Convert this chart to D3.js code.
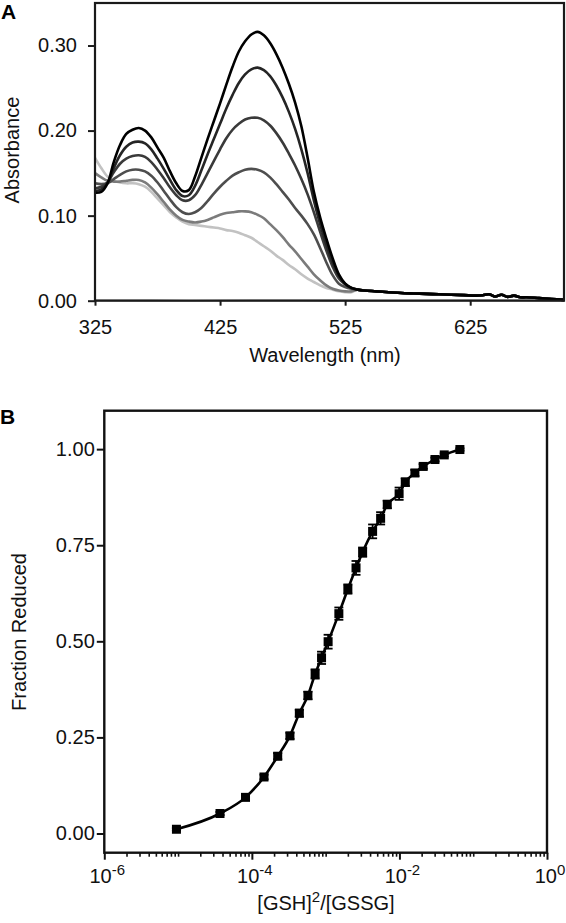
<!DOCTYPE html>
<html><head><meta charset="utf-8">
<script src="https://cdn.jsdelivr.net/npm/d3@7"></script>
<style>
body{margin:0;background:#fff}
svg{display:block;font-family:"Liberation Sans",Arial,Helvetica,sans-serif}
</style>
</head><body>
<svg id="chart" width="566" height="923"></svg>
<script>
// ---------- Panel A data ----------
const wavelengths = [325,330,335,340,345,350,355,360,365,370,375,380,385,390,395,400,405,410,415,420,425,430,435,440,445,450,455,460,465,470,475,480,485,490,495,500,505,510,515,520,525,530];
const spec1 = [.127,.128,.138,.163,.183,.196,.201,.203,.200,.192,.180,.168,.152,.138,.129,.130,.146,.168,.190,.211,.232,.254,.275,.293,.305,.313,.316,.312,.303,.290,.274,.255,.233,.205,.168,.128,.098,.073,.050,.031,.020,.015];
const spec2 = [.129,.131,.138,.156,.171,.181,.186,.187,.185,.178,.167,.155,.142,.130,.123,.124,.135,.153,.172,.190,.208,.226,.242,.256,.266,.272,.274,.271,.264,.253,.239,.222,.202,.178,.150,.118,.090,.066,.045,.029,.020,.015];
const spec3 = [.132,.134,.139,.151,.161,.167,.170,.171,.169,.163,.154,.144,.133,.124,.118,.118,.124,.136,.150,.164,.178,.191,.201,.208,.213,.215,.215,.212,.206,.197,.186,.173,.159,.143,.125,.104,.081,.059,.040,.026,.019,.015];
const spec4 = [.138,.137,.138,.143,.148,.152,.154,.154,.152,.147,.139,.129,.119,.110,.104,.102,.104,.109,.117,.126,.134,.141,.147,.151,.154,.155,.154,.151,.145,.137,.128,.119,.109,.100,.090,.078,.062,.045,.030,.020,.016,.014];
const spec5 = [.150,.145,.141,.140,.140,.141,.142,.142,.139,.133,.125,.116,.107,.100,.095,.093,.092,.093,.095,.098,.101,.103,.104,.105,.105,.104,.101,.097,.090,.083,.075,.066,.058,.049,.040,.031,.024,.018,.014,.012,.011,.011];
const spec6 = [.168,.156,.146,.141,.139,.138,.138,.137,.134,.128,.120,.112,.104,.098,.093,.090,.089,.088,.087,.086,.085,.083,.082,.080,.077,.074,.069,.064,.059,.053,.048,.042,.037,.031,.026,.022,.018,.015,.013,.011,.010,.010];
const tailWavelengths = [535,540,550,560,570,580,590,600,610,620,630,635,640,645,650,655,660,665,670,680,690,700];
const tailAbs = [.013,.012,.011,.010,.009,.0085,.008,.0075,.007,.0065,.006,.0065,.0075,.005,.007,.0045,.006,.004,.004,.003,.002,.001];
const baseWavelengths = [325,400,475,550,625,700];
const baseAbs = [.0005,.0003,.0006,.0002,.0005,.0004];
const specColors = ["#000000","#252525","#3a3a3a","#4e4e4e","#7b7b7b","#c2c2c2"];
const xTicksA = [325,425,525,625];
const yTicksA = [0,0.1,0.2,0.3];

// ---------- Panel B data ----------
const ratio = [9.5e-6,3.7e-5,8.2e-5,1.46e-4,2.24e-4,3.28e-4,4.4e-4,5.75e-4,7.2e-4,8.8e-4,1.08e-3,1.51e-3,2.0e-3,2.58e-3,3.17e-3,4.33e-3,5.56e-3,6.84e-3,9.9e-3,1.2e-2,1.62e-2,2.1e-2,3.03e-2,4.05e-2,6.6e-2];
const fraction = [0.011,0.052,0.094,0.147,0.201,0.254,0.313,0.359,0.415,0.457,0.499,0.572,0.636,0.691,0.732,0.786,0.820,0.856,0.884,0.914,0.938,0.955,0.973,0.985,0.999];
const fractionErr = [0.003,0.004,0.005,0.006,0.008,0.008,0.009,0.010,0.012,0.016,0.018,0.016,0.012,0.018,0.012,0.018,0.016,0.010,0.016,0.010,0.008,0.006,0.005,0.004,0.003];
const xMajorB = [1e-6,1e-4,1e-2,1];
const xExpB = ["-6","-4","-2","0"];
const yTicksB = [0,0.25,0.5,0.75,1.0];

const svg = d3.select("#chart");
const FS = 20;

// ================= Panel A =================
const A = {l:95, r:564, t:3, b:300.7};
const xA = d3.scaleLinear().domain([325,700]).range([A.l,A.r]);
const yA = d3.scaleLinear().domain([0,0.35]).range([A.b,A.t]);
const gA = svg.append("g");

const lineA = d3.line().x(d=>xA(d[0])).y(d=>yA(d[1])).curve(d3.curveCatmullRom);

gA.append("path").datum(baseWavelengths.map((w,i)=>[w,baseAbs[i]]))
  .attr("d", lineA).attr("fill","none").attr("stroke","#6a6a6a").attr("stroke-width",1.6);

const spectra = [spec1,spec2,spec3,spec4,spec5,spec6];
for (let k = spectra.length-1; k >= 0; k--) {
  const pts = wavelengths.map((w,i)=>[w,spectra[k][i]]).concat(tailWavelengths.map((w,i)=>[w,tailAbs[i]]));
  gA.append("path").datum(pts).attr("d", lineA)
    .attr("fill","none").attr("stroke",specColors[k]).attr("stroke-width",2.6)
    .attr("stroke-linejoin","round");
}

gA.append("rect").attr("x",A.l).attr("y",A.t).attr("width",A.r-A.l).attr("height",A.b-A.t)
  .attr("fill","none").attr("stroke","#1a1a1a").attr("stroke-width",2.2);

const axAy = gA.append("g").attr("transform",`translate(${A.l},0)`)
  .call(d3.axisLeft(yA).tickValues(yTicksA).tickFormat(d3.format(".2f")).tickSize(7).tickPadding(11));
const axAx = gA.append("g").attr("transform",`translate(0,${A.b})`)
  .call(d3.axisBottom(xA).tickValues(xTicksA).tickFormat(d3.format("d")).tickSize(5).tickPadding(14));
[axAy,axAx].forEach(g=>{
  g.select(".domain").remove();
  g.selectAll("line").attr("stroke","#1a1a1a").attr("stroke-width",2);
  g.selectAll("text").attr("font-size",FS).attr("fill","#111").attr("font-family","Liberation Sans, Arial, sans-serif");
});

gA.append("text").attr("x",325).attr("y",362).attr("text-anchor","middle")
  .attr("font-size",FS).attr("fill","#111").text("Wavelength (nm)");
gA.append("text").attr("transform","translate(18.5,150) rotate(-90)").attr("text-anchor","middle")
  .attr("font-size",FS).attr("fill","#111").text("Absorbance");
gA.append("text").attr("x",1).attr("y",19).attr("font-size",21).attr("font-weight","bold").text("A");

// ================= Panel B =================
const B = {l:104.3, r:547, t:410.7, b:852.7};
const xB = d3.scaleLog().domain([1e-6,1]).range([B.l,B.r]);
const yB = d3.scaleLinear().domain([-0.05,1.1]).range([B.b,B.t]);
const gB = svg.append("g");

gB.append("path").datum(ratio.map((x,i)=>[x,fraction[i]]))
  .attr("d", d3.line().x(d=>xB(d[0])).y(d=>yB(d[1])).curve(d3.curveMonotoneX))
  .attr("fill","none").attr("stroke","#000").attr("stroke-width",2.6);

const eb = gB.append("g").attr("stroke","#000").attr("stroke-width",1.8);
ratio.forEach((x,i)=>{
  const cx = xB(x), y1 = yB(fraction[i]-fractionErr[i]), y2 = yB(fraction[i]+fractionErr[i]);
  eb.append("line").attr("x1",cx).attr("x2",cx).attr("y1",y1).attr("y2",y2);
  eb.append("line").attr("x1",cx-4.5).attr("x2",cx+4.5).attr("y1",y1).attr("y2",y1);
  eb.append("line").attr("x1",cx-4.5).attr("x2",cx+4.5).attr("y1",y2).attr("y2",y2);
});
gB.selectAll("rect.pt").data(ratio).enter().append("rect").attr("class","pt")
  .attr("x",d=>xB(d)-4.5).attr("y",(d,i)=>yB(fraction[i])-4.5)
  .attr("width",9).attr("height",9).attr("fill","#000");

gB.append("rect").attr("x",B.l).attr("y",B.t).attr("width",B.r-B.l).attr("height",B.b-B.t)
  .attr("fill","none").attr("stroke","#111").attr("stroke-width",2.4);

const axBy = gB.append("g").attr("transform",`translate(${B.l},0)`)
  .call(d3.axisLeft(yB).tickValues(yTicksB).tickFormat(d3.format(".2f")).tickSize(7.5).tickPadding(2));
axBy.select(".domain").remove();
axBy.selectAll("line").attr("stroke","#111").attr("stroke-width",2);
axBy.selectAll("text").attr("font-size",FS).attr("fill","#111").attr("font-family","Liberation Sans, Arial, sans-serif");

const minorB = [];
for (let e=-6; e<0; e++) for (let m=1; m<10; m++) { const v = m*Math.pow(10,e); if (!xMajorB.some(t=>Math.abs(t-v)/v<1e-9)) minorB.push(v); }
const axBxMinor = gB.append("g").attr("transform",`translate(0,${B.b})`)
  .call(d3.axisBottom(xB).tickValues(minorB).tickFormat("").tickSize(4));
axBxMinor.select(".domain").remove();
axBxMinor.selectAll("line").attr("stroke","#111").attr("stroke-width",1.6);
const axBx = gB.append("g").attr("transform",`translate(0,${B.b})`)
  .call(d3.axisBottom(xB).tickValues(xMajorB).tickFormat("").tickSize(7));
axBx.select(".domain").remove();
axBx.selectAll("line").attr("stroke","#111").attr("stroke-width",2);
xMajorB.forEach((v,i)=>{
  const t = gB.append("text").attr("x",xB(v)+3).attr("y",883).attr("text-anchor","middle")
    .attr("font-size",FS).attr("fill","#111");
  t.append("tspan").text("10");
  t.append("tspan").attr("dy",-8).attr("font-size",15).text(xExpB[i]);
});

const xt = gB.append("text").attr("x",326).attr("y",910).attr("text-anchor","middle").attr("font-size",FS).attr("fill","#111");
xt.append("tspan").text("[GSH]");
xt.append("tspan").attr("dy",-8).attr("font-size",15).text("2");
xt.append("tspan").attr("dy",8).text("/[GSSG]");
gB.append("text").attr("transform","translate(26,632) rotate(-90)").attr("text-anchor","middle")
  .attr("font-size",FS).attr("fill","#111").text("Fraction Reduced");
gB.append("text").attr("x",0).attr("y",424).attr("font-size",21).attr("font-weight","bold").text("B");
</script>
</body></html>
